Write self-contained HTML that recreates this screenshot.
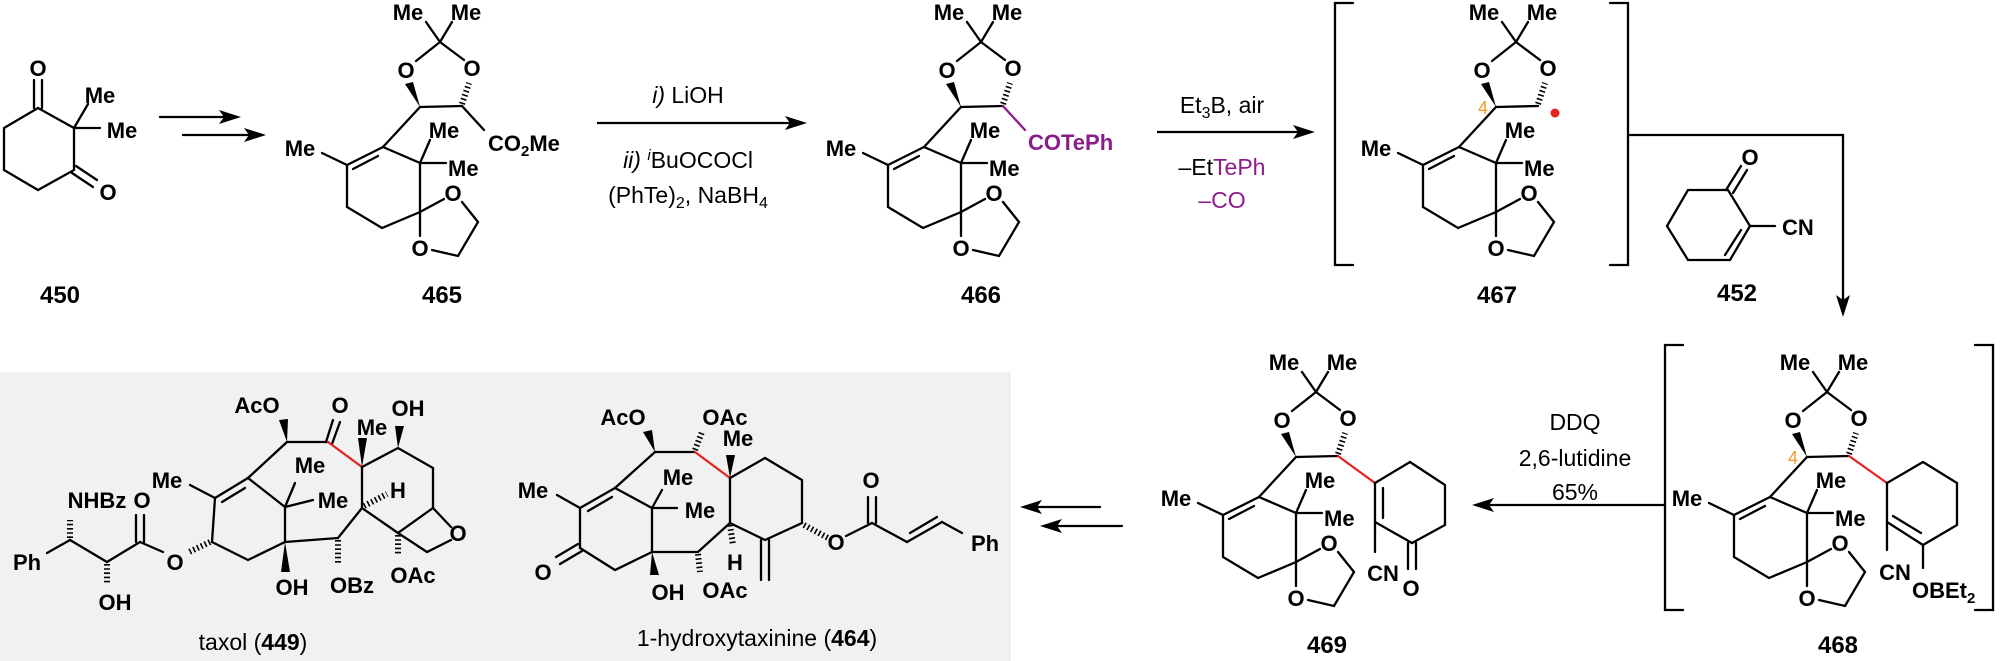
<!DOCTYPE html>
<html><head><meta charset="utf-8"><style>
html,body{margin:0;padding:0;background:#fff;}
svg{display:block;}
text{font-family:"Liberation Sans",Arial,sans-serif;}
.b{font-weight:bold;font-size:22px;text-anchor:middle;}
.bs{font-weight:bold;font-size:22px;}
.n{font-weight:bold;font-size:24px;text-anchor:middle;}
.r{font-size:23px;text-anchor:middle;}
.l line,.l polyline{stroke:#000;stroke-width:2.3;fill:none;stroke-linecap:round;}
.h{stroke:#000;stroke-width:6;stroke-dasharray:1.6 2.6;fill:none;}
.red{stroke:#e52420 !important;}
.pur{stroke:#8b1c8a !important;}
</style></head><body>
<svg width="2000" height="661" viewBox="0 0 2000 661" xmlns="http://www.w3.org/2000/svg">
<rect x="0" y="372" width="1011" height="289" fill="#f1f1f1"/>

<!-- 450 -->
<g class="l">
<polyline points="38,108 74,128 74,170 38,190 4,170 4,128 38,108"/>
<line x1="34" y1="108" x2="34" y2="80"/><line x1="42" y1="108" x2="42" y2="80"/>
<line x1="74" y1="128" x2="88" y2="104"/><line x1="74" y1="128" x2="100" y2="128"/>
<line x1="76" y1="166" x2="97" y2="180"/><line x1="72" y1="173" x2="93" y2="187"/>
</g>
<text class="b" x="38" y="76">O</text>
<text class="b" x="100" y="103">Me</text>
<text class="b" x="122" y="138">Me</text>
<text class="b" x="108" y="200">O</text>
<text class="n" x="60" y="303">450</text>

<!-- step arrows -->
<g class="l"><line x1="160" y1="117" x2="225" y2="117"/><line x1="183" y1="135" x2="250" y2="135"/></g>
<polygon points="241,117 219,110 224,117 219,124"/>
<polygon points="266,135 244,128 249,135 244,142"/>

<g transform="translate(440,42)">
<g class="l">
<line x1="0" y1="0" x2="-14" y2="-20"/><line x1="0" y1="0" x2="12" y2="-20"/>
<line x1="0" y1="0" x2="-24" y2="19"/><line x1="0" y1="0" x2="24" y2="18"/>
<line x1="-20" y1="65" x2="22" y2="64"/><line x1="-20" y1="65" x2="-57" y2="105"/>
<line x1="-57" y1="105" x2="-93" y2="123"/><line x1="-62" y1="114" x2="-87" y2="127"/>
<line x1="-93" y1="123" x2="-118" y2="111"/>
<polyline points="-93,123 -93,165 -58,186 -20,170 -20,121 -57,105"/>
<line x1="-20" y1="121" x2="-10" y2="98"/><line x1="-20" y1="121" x2="6" y2="121"/>
<line x1="-20" y1="170" x2="4" y2="157"/>
<polyline points="22,160 38,180 18,214 -8,208"/>
<line x1="-20" y1="170" x2="-20" y2="194"/>
<line x1="22" y1="64" x2="44" y2="88"/>
</g>
<polygon points="-20,65 -35,42 -27,40"/>
<line class="h" x1="22" y1="62" x2="29" y2="41"/>
<text class="b" x="-32" y="-22">Me</text><text class="b" x="26" y="-22">Me</text>
<text class="b" x="-34" y="36">O</text><text class="b" x="32" y="34">O</text>
<text class="b" x="-140" y="114">Me</text><text class="b" x="4" y="96">Me</text>
<text class="bs" x="8" y="134">Me</text>
<text class="b" x="13" y="159">O</text><text class="b" x="-20" y="214">O</text>
<text class="bs" x="48" y="109">CO<tspan font-size="15" dy="5">2</tspan><tspan dy="-5">Me</tspan></text>
</g>
<text class="n" x="442" y="303">465</text>

<!-- reagents 1 -->
<line x1="597" y1="123" x2="790" y2="123" stroke="#000" stroke-width="2.3"/>
<polygon points="807,123 785,116 790,123 785,130"/>
<text class="r" x="688" y="103"><tspan font-style="italic">i)</tspan> LiOH</text>
<text class="r" x="688" y="168"><tspan font-style="italic">ii) <tspan font-size="15" dy="-8">i</tspan></tspan><tspan dy="8">BuOCOCl</tspan></text>
<text class="r" x="688" y="203">(PhTe)<tspan font-size="16" dy="5">2</tspan><tspan dy="-5">, NaBH</tspan><tspan font-size="16" dy="5">4</tspan></text>

<!-- 466 -->
<g transform="translate(981,42)">
<g class="l">
<line x1="0" y1="0" x2="-14" y2="-20"/><line x1="0" y1="0" x2="12" y2="-20"/>
<line x1="0" y1="0" x2="-24" y2="19"/><line x1="0" y1="0" x2="24" y2="18"/>
<line x1="-20" y1="65" x2="22" y2="64"/><line x1="-20" y1="65" x2="-57" y2="105"/>
<line x1="-57" y1="105" x2="-93" y2="123"/><line x1="-62" y1="114" x2="-87" y2="127"/>
<line x1="-93" y1="123" x2="-118" y2="111"/>
<polyline points="-93,123 -93,165 -58,186 -20,170 -20,121 -57,105"/>
<line x1="-20" y1="121" x2="-10" y2="98"/><line x1="-20" y1="121" x2="6" y2="121"/>
<line x1="-20" y1="170" x2="4" y2="157"/>
<polyline points="22,160 38,180 18,214 -8,208"/>
<line x1="-20" y1="170" x2="-20" y2="194"/>
<line class="pur" x1="22" y1="64" x2="44" y2="88"/>
</g>
<polygon points="-20,65 -35,42 -27,40"/>
<line class="h" x1="22" y1="62" x2="29" y2="41"/>
<text class="b" x="-32" y="-22">Me</text><text class="b" x="26" y="-22">Me</text>
<text class="b" x="-34" y="36">O</text><text class="b" x="32" y="34">O</text>
<text class="b" x="-140" y="114">Me</text><text class="b" x="4" y="96">Me</text>
<text class="bs" x="8" y="134">Me</text>
<text class="b" x="13" y="159">O</text><text class="b" x="-20" y="214">O</text>
<text class="bs" x="47" y="108" fill="#8b1c8a">COTePh</text>
</g>
<text class="n" x="981" y="303">466</text>

<!-- reagents 2 -->
<line x1="1157" y1="132" x2="1298" y2="132" stroke="#000" stroke-width="2.3"/>
<polygon points="1315,132 1293,125 1298,132 1293,139"/>
<text class="r" x="1222" y="113">Et<tspan font-size="16" dy="5">3</tspan><tspan dy="-5">B, air</tspan></text>
<text class="r" x="1222" y="175">–Et<tspan fill="#8b1c8a">TePh</tspan></text>
<text class="r" x="1222" y="208" fill="#8b1c8a">–CO</text>

<!-- 467 -->
<g class="l"><polyline points="1353,3 1335,3 1335,265 1353,265"/><polyline points="1610,3 1628,3 1628,265 1610,265"/>
<polyline points="1630,135 1843,135 1843,300"/></g>
<polygon points="1843,317 1836,295 1843,300 1850,295"/>
<g transform="translate(1516,42)">
<g class="l">
<line x1="0" y1="0" x2="-14" y2="-20"/><line x1="0" y1="0" x2="12" y2="-20"/>
<line x1="0" y1="0" x2="-24" y2="19"/><line x1="0" y1="0" x2="24" y2="18"/>
<line x1="-20" y1="65" x2="22" y2="64"/><line x1="-20" y1="65" x2="-57" y2="105"/>
<line x1="-57" y1="105" x2="-93" y2="123"/><line x1="-62" y1="114" x2="-87" y2="127"/>
<line x1="-93" y1="123" x2="-118" y2="111"/>
<polyline points="-93,123 -93,165 -58,186 -20,170 -20,121 -57,105"/>
<line x1="-20" y1="121" x2="-10" y2="98"/><line x1="-20" y1="121" x2="6" y2="121"/>
<line x1="-20" y1="170" x2="4" y2="157"/>
<polyline points="22,160 38,180 18,214 -8,208"/>
<line x1="-20" y1="170" x2="-20" y2="194"/>
</g>
<polygon points="-20,65 -35,42 -27,40"/>
<line class="h" x1="22" y1="62" x2="29" y2="41"/>
<circle cx="39" cy="71" r="4.5" fill="#e52420"/>
<text x="-33" y="72" font-size="18" fill="#f39a2e" text-anchor="middle">4</text>
<text class="b" x="-32" y="-22">Me</text><text class="b" x="26" y="-22">Me</text>
<text class="b" x="-34" y="36">O</text><text class="b" x="32" y="34">O</text>
<text class="b" x="-140" y="114">Me</text><text class="b" x="4" y="96">Me</text>
<text class="bs" x="8" y="134">Me</text>
<text class="b" x="13" y="159">O</text><text class="b" x="-20" y="214">O</text>
</g>
<text class="n" x="1497" y="303">467</text>

<!-- 452 -->
<g class="l">
<polyline points="1728,190 1750,226 1730,260 1688,260 1667,226 1688,190 1728,190"/>
<line x1="1726" y1="190" x2="1741" y2="166"/><line x1="1733" y1="193" x2="1747" y2="170"/>
<line x1="1741" y1="230" x2="1725" y2="255"/>
<line x1="1750" y1="226" x2="1775" y2="226"/>
</g>
<text class="b" x="1750" y="165">O</text>
<text class="bs" x="1782" y="235">CN</text>
<text class="n" x="1737" y="301">452</text>

<!-- 468 -->
<g class="l"><polyline points="1683,345 1665,345 1665,610 1683,610"/><polyline points="1975,345 1993,345 1993,610 1975,610"/></g>
<g transform="translate(1827,392)">
<g class="l">
<line x1="0" y1="0" x2="-14" y2="-20"/><line x1="0" y1="0" x2="12" y2="-20"/>
<line x1="0" y1="0" x2="-24" y2="19"/><line x1="0" y1="0" x2="24" y2="18"/>
<line x1="-20" y1="65" x2="22" y2="64"/><line x1="-20" y1="65" x2="-57" y2="105"/>
<line x1="-57" y1="105" x2="-93" y2="123"/><line x1="-62" y1="114" x2="-87" y2="127"/>
<line x1="-93" y1="123" x2="-118" y2="111"/>
<polyline points="-93,123 -93,165 -58,186 -20,170 -20,121 -57,105"/>
<line x1="-20" y1="121" x2="-10" y2="98"/><line x1="-20" y1="121" x2="6" y2="121"/>
<line x1="-20" y1="170" x2="4" y2="157"/>
<polyline points="22,160 38,180 18,214 -8,208"/>
<line x1="-20" y1="170" x2="-20" y2="194"/>
<line class="red" x1="22" y1="64" x2="60" y2="91"/>
<polyline points="60,91 96,70 130,91 130,133 96,153 60,130 60,91"/>
<line x1="66" y1="124" x2="94" y2="141"/>
<line x1="60" y1="130" x2="60" y2="158"/><line x1="96" y1="153" x2="96" y2="176"/>
</g>
<polygon points="-20,65 -35,42 -27,40"/>
<line class="h" x1="22" y1="62" x2="29" y2="41"/>
<text x="-34" y="72" font-size="18" fill="#f39a2e" text-anchor="middle">4</text>
<text class="b" x="-32" y="-22">Me</text><text class="b" x="26" y="-22">Me</text>
<text class="b" x="-34" y="36">O</text><text class="b" x="32" y="34">O</text>
<text class="b" x="-140" y="114">Me</text><text class="b" x="4" y="96">Me</text>
<text class="bs" x="8" y="134">Me</text>
<text class="b" x="13" y="159">O</text><text class="b" x="-20" y="214">O</text>
<text class="b" x="68" y="188">CN</text>
<text class="bs" x="85" y="206">OBEt<tspan font-size="15" dy="5">2</tspan></text>
</g>
<text class="n" x="1838" y="653">468</text>

<!-- DDQ arrow -->
<line x1="1665" y1="505" x2="1488" y2="505" stroke="#000" stroke-width="2.3"/>
<polygon points="1472,505 1494,498 1489,505 1494,512"/>
<text class="r" x="1575" y="430">DDQ</text>
<text class="r" x="1575" y="466">2,6-lutidine</text>
<text class="r" x="1575" y="500">65%</text>

<!-- 469 -->
<g transform="translate(1316,392)">
<g class="l">
<line x1="0" y1="0" x2="-14" y2="-20"/><line x1="0" y1="0" x2="12" y2="-20"/>
<line x1="0" y1="0" x2="-24" y2="19"/><line x1="0" y1="0" x2="24" y2="18"/>
<line x1="-20" y1="65" x2="22" y2="64"/><line x1="-20" y1="65" x2="-57" y2="105"/>
<line x1="-57" y1="105" x2="-93" y2="123"/><line x1="-62" y1="114" x2="-87" y2="127"/>
<line x1="-93" y1="123" x2="-118" y2="111"/>
<polyline points="-93,123 -93,165 -58,186 -20,170 -20,121 -57,105"/>
<line x1="-20" y1="121" x2="-10" y2="98"/><line x1="-20" y1="121" x2="6" y2="121"/>
<line x1="-20" y1="170" x2="4" y2="157"/>
<polyline points="22,160 38,180 18,214 -8,208"/>
<line x1="-20" y1="170" x2="-20" y2="194"/>
<line class="red" x1="22" y1="64" x2="59" y2="91"/>
<polyline points="59,91 94,70 129,93 129,133 96,151 59,130 59,91"/>
<line x1="67" y1="96" x2="67" y2="126"/>
<line x1="59" y1="130" x2="59" y2="160"/>
<line x1="92" y1="151" x2="92" y2="177"/><line x1="100" y1="151" x2="100" y2="177"/>
</g>
<polygon points="-20,65 -35,42 -27,40"/>
<line class="h" x1="22" y1="62" x2="29" y2="41"/>
<text class="b" x="-32" y="-22">Me</text><text class="b" x="26" y="-22">Me</text>
<text class="b" x="-34" y="36">O</text><text class="b" x="32" y="34">O</text>
<text class="b" x="-140" y="114">Me</text><text class="b" x="4" y="96">Me</text>
<text class="bs" x="8" y="134">Me</text>
<text class="b" x="13" y="159">O</text><text class="b" x="-20" y="214">O</text>
<text class="b" x="67" y="189">CN</text>
<text class="b" x="95" y="204">O</text>
</g>
<text class="n" x="1327" y="653">469</text>

<!-- retro arrows -->
<g class="l"><line x1="1100" y1="507" x2="1036" y2="507"/><line x1="1122" y1="526" x2="1056" y2="526"/></g>
<polygon points="1020,507 1042,500 1037,507 1042,514"/>
<polygon points="1040,526 1062,519 1057,526 1062,533"/>

<!-- taxol -->
<g class="l">
<line x1="47" y1="553" x2="70" y2="540"/>
<line x1="70" y1="540" x2="107" y2="562"/><line x1="107" y1="562" x2="140" y2="542"/>
<line x1="136" y1="542" x2="136" y2="515"/><line x1="144" y1="542" x2="144" y2="515"/>
<line x1="140" y1="542" x2="163" y2="552"/>
<line x1="212" y1="542" x2="215" y2="498"/><line x1="215" y1="498" x2="248" y2="478"/>
<line x1="222" y1="502" x2="245" y2="488"/>
<line x1="215" y1="498" x2="190" y2="485"/>
<polyline points="212,542 248,560 285,542"/>
<line x1="285" y1="542" x2="285" y2="507"/><line x1="248" y1="478" x2="285" y2="507"/>
<line x1="285" y1="507" x2="295" y2="483"/><line x1="285" y1="507" x2="313" y2="500"/>
<line x1="248" y1="478" x2="287" y2="442"/><line x1="287" y1="442" x2="328" y2="442"/>
<line x1="326" y1="442" x2="333" y2="420"/><line x1="332" y1="444" x2="340" y2="422"/>
<line class="red" x1="328" y1="442" x2="362" y2="467"/>
<polyline points="362,467 398,448 433,468 433,508"/>
<polyline points="433,508 451,527"/><polyline points="451,540 427,552 398,533 433,508"/>
<line x1="362" y1="467" x2="362" y2="508"/><line x1="362" y1="508" x2="398" y2="533"/>
<line x1="362" y1="508" x2="338" y2="538"/><line x1="338" y1="538" x2="285" y2="542"/>
</g>
<line class="h" x1="70" y1="538" x2="70" y2="520"/>
<line class="h" x1="107" y1="564" x2="107" y2="584"/>
<line class="h" x1="210" y1="542" x2="189" y2="552"/>
<line class="h" x1="364" y1="506" x2="387" y2="494"/>
<line class="h" x1="398" y1="535" x2="398" y2="556"/>
<line class="h" x1="338" y1="540" x2="338" y2="563"/>
<polygon points="285,542 281,572 290,572"/>
<polygon points="287,442 279,420 288,419"/>
<polygon points="362,467 358,438 367,438"/>
<polygon points="398,448 395,426 404,426"/>
<text class="b" x="27" y="570">Ph</text>
<text class="b" x="97" y="508">NHBz</text><text class="b" x="142" y="508">O</text>
<text class="b" x="115" y="610">OH</text>
<text class="b" x="175" y="570">O</text>
<text class="b" x="167" y="488">Me</text>
<text class="b" x="310" y="473">Me</text>
<text class="b" x="333" y="508">Me</text>
<text class="b" x="292" y="595">OH</text>
<text class="b" x="257" y="413">AcO</text>
<text class="b" x="340" y="413">O</text>
<text class="b" x="372" y="435">Me</text>
<text class="b" x="408" y="416">OH</text>
<text class="b" x="398" y="498">H</text>
<text class="b" x="458" y="541">O</text>
<text class="b" x="413" y="583">OAc</text>
<text class="b" x="352" y="593">OBz</text>
<text class="r" x="253" y="650">taxol (<tspan font-weight="bold">449</tspan>)</text>

<!-- 1-hydroxytaxinine -->
<g class="l">
<line x1="655" y1="452" x2="695" y2="452"/>
<line class="red" x1="695" y1="452" x2="730" y2="478"/>
<line x1="655" y1="452" x2="615" y2="488"/>
<line x1="615" y1="488" x2="580" y2="508"/><line x1="612" y1="497" x2="588" y2="511"/>
<line x1="580" y1="508" x2="557" y2="495"/>
<line x1="580" y1="508" x2="580" y2="548"/>
<line x1="578" y1="544" x2="556" y2="557"/><line x1="582" y1="551" x2="560" y2="564"/>
<polyline points="580,548 615,570 652,552"/>
<line x1="615" y1="488" x2="652" y2="508"/><line x1="652" y1="508" x2="652" y2="552"/>
<line x1="652" y1="508" x2="662" y2="490"/><line x1="652" y1="508" x2="677" y2="508"/>
<polyline points="652,552 698,552 730,523 730,478"/>
<polyline points="730,478 765,458 802,480 802,523 765,540 730,523"/>
<line x1="761" y1="540" x2="761" y2="580"/><line x1="769" y1="540" x2="769" y2="580"/>
<line x1="846" y1="536" x2="872" y2="523"/>
<line x1="868" y1="523" x2="868" y2="497"/><line x1="876" y1="523" x2="876" y2="497"/>
<line x1="872" y1="523" x2="907" y2="542"/>
<line x1="907" y1="542" x2="942" y2="522"/><line x1="910" y1="533" x2="937" y2="517"/>
<line x1="942" y1="522" x2="962" y2="533"/>
</g>
<polygon points="655,452 643,432 652,430"/>
<line class="h" x1="695" y1="450" x2="702" y2="432"/>
<polygon points="730,478 726,455 735,455"/>
<polygon points="652,552 650,575 659,575"/>
<line class="h" x1="698" y1="554" x2="700" y2="572"/>
<line class="h" x1="730" y1="525" x2="733" y2="545"/>
<line class="h" x1="804" y1="525" x2="828" y2="538"/>
<text class="b" x="623" y="425">AcO</text>
<text class="b" x="725" y="425">OAc</text>
<text class="b" x="738" y="446">Me</text>
<text class="b" x="533" y="498">Me</text>
<text class="b" x="678" y="485">Me</text>
<text class="b" x="700" y="518">Me</text>
<text class="b" x="543" y="580">O</text>
<text class="b" x="668" y="600">OH</text>
<text class="b" x="725" y="598">OAc</text>
<text class="b" x="735" y="570">H</text>
<text class="b" x="836" y="550">O</text>
<text class="b" x="871" y="488">O</text>
<text class="b" x="985" y="551">Ph</text>
<text class="r" x="757" y="646">1-hydroxytaxinine (<tspan font-weight="bold">464</tspan>)</text>
</svg>
</body></html>
